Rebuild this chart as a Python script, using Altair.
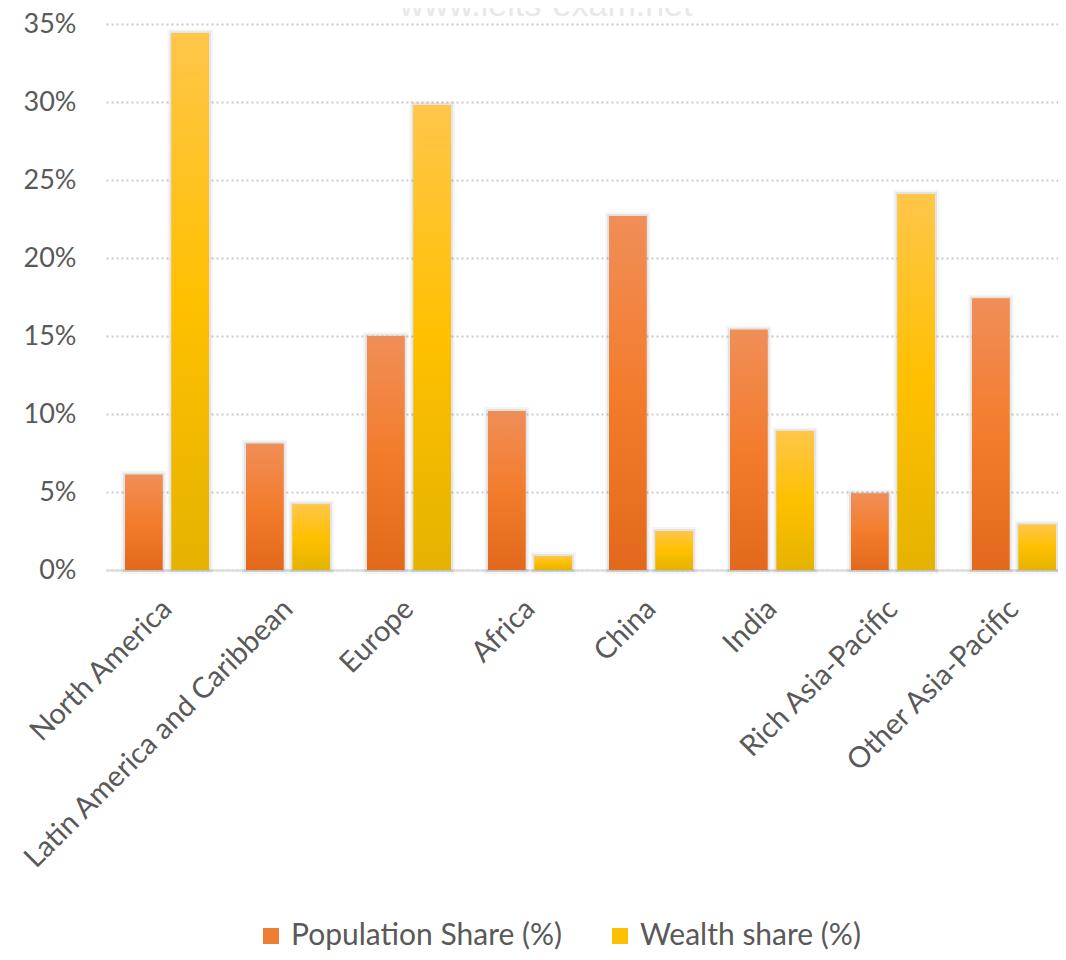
import altair as alt
import pandas as pd

categories = ["North America", "Latin America and Caribbean", "Europe", "Africa",
              "China", "India", "Rich Asia-Pacific", "Other Asia-Pacific"]
population_share = [6.1, 8.1, 15.0, 10.2, 22.7, 15.4, 4.9, 17.4]
wealth_share = [34.4, 4.2, 29.8, 0.9, 2.5, 8.9, 24.1, 2.9]
series_names = ["Population Share (%)", "Wealth share (%)"]
y_ticks = [0, 5, 10, 15, 20, 25, 30, 35]
watermark = ["www.ielts-exam.net"]

rows = []
for c, p, w in zip(categories, population_share, wealth_share):
    rows.append({"region": c, "series": series_names[0], "value": p})
    rows.append({"region": c, "series": series_names[1], "value": w})
df = pd.DataFrame(rows)

orange_grad = {"gradient": "linear", "x1": 0, "y1": 0, "x2": 0, "y2": 1,
               "stops": [{"offset": 0, "color": "#F08E58"},
                         {"offset": 0.5, "color": "#F37C2C"},
                         {"offset": 1, "color": "#E2691B"}]}
yellow_grad = {"gradient": "linear", "x1": 0, "y1": 0, "x2": 0, "y2": 1,
               "stops": [{"offset": 0, "color": "#FFC64A"},
                         {"offset": 0.5, "color": "#FFC000"},
                         {"offset": 1, "color": "#E4B300"}]}

FONT = "Lato"
TXT = "#595959"

x = alt.X("region:N", sort=categories,
          scale=alt.Scale(range=[0, 969], paddingInner=0.306, paddingOuter=0.157),
          axis=alt.Axis(title=None, labelAngle=-45, labelAlign="right", labelBaseline="middle",
                        labelPadding=34, ticks=False, domainColor="#D9D9D9", domainWidth=2,
                        labelFont=FONT, labelFontSize=29, labelColor=TXT, grid=False,
                        labelLimit=0))
xo = alt.XOffset("series:N", sort=series_names,
                 scale=alt.Scale(domain=series_names, paddingInner=0.194, paddingOuter=0))
y = alt.Y("value:Q", scale=alt.Scale(domain=[0, 35], nice=False),
          axis=alt.Axis(title=None, values=y_ticks, labelExpr="datum.value + '%'",
                        ticks=False, domain=False, labelPadding=30, grid=True,
                        gridColor="#C9C9C9", gridDash=[2, 3], gridWidth=2,
                        labelFont=FONT, labelFontSize=27, labelColor=TXT))

shadow_outer = alt.Chart(df).mark_bar(
    fill="#000000", fillOpacity=0.0, stroke="#000000", strokeOpacity=0.04, strokeWidth=8
).encode(x=x, xOffset=xo, y=y)

shadow_inner = alt.Chart(df).mark_bar(
    fill="#000000", fillOpacity=0.0, stroke="#000000", strokeOpacity=0.07, strokeWidth=4
).encode(x=x, xOffset=xo, y=y)

base = alt.Chart(df).mark_bar().encode(
    x=x, xOffset=xo, y=y,
    color=alt.Color("series:N", sort=series_names,
                    scale=alt.Scale(domain=series_names, range=["#EE7E33", "#FFC000"]),
                    legend=alt.Legend(orient="none", legendX=150, legendY=897,
                                      direction="horizontal", title=None,
                                      symbolType="square", symbolSize=256,
                                      symbolStrokeWidth=0, labelFont=FONT,
                                      labelFontSize=30, labelColor=TXT, labelLimit=0,
                                      columnPadding=42, labelOffset=5, padding=0)),
)

grad = alt.Chart(df).mark_bar().encode(
    x=x, xOffset=xo, y=y,
    color=alt.condition(alt.datum.series == series_names[0],
                        alt.value(orange_grad), alt.value(yellow_grad)),
)

wm = alt.Chart(pd.DataFrame({"t": watermark})).mark_text(
    font="Liberation Sans", fontSize=34, color="#E8E8E8", align="center",
    baseline="alphabetic"
).encode(text="t:N", x=alt.value(440), y=alt.value(-8))

chart = alt.layer(shadow_outer, shadow_inner, base, grad, wm).properties(
    width=952, height=546,
    padding={"left": 98, "top": 16, "right": 0, "bottom": 380},
    autosize=alt.AutoSizeParams(type="none"),
).configure_view(stroke=None)

chart.save("out.html", embed_options={"renderer": "svg", "actions": False})
